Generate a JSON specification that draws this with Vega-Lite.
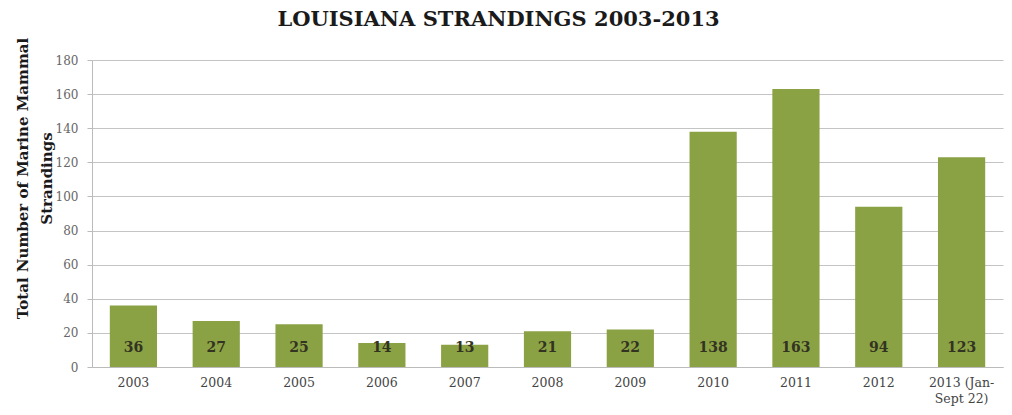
{
  "$schema": "https://vega.github.io/schema/vega-lite/v6.json",
  "autosize": "none",
  "width": 911,
  "height": 307,
  "padding": {"left": 92, "top": 60, "right": 9, "bottom": 48},
  "background": "white",
  "title": {
    "text": "LOUISIANA STRANDINGS 2003-2013",
    "font": "DejaVu Serif",
    "fontSize": 21,
    "fontWeight": "bold",
    "color": "#1a1a1a",
    "anchor": "middle",
    "frame": "group",
    "dx": -49,
    "offset": 7
  },
  "data": {
    "values": [
      {"year": "2003", "count": 36},
      {"year": "2004", "count": 27},
      {"year": "2005", "count": 25},
      {"year": "2006", "count": 14},
      {"year": "2007", "count": 13},
      {"year": "2008", "count": 21},
      {"year": "2009", "count": 22},
      {"year": "2010", "count": 138},
      {"year": "2011", "count": 163},
      {"year": "2012", "count": 94},
      {"year": "2013 (Jan-Sept 22)", "count": 123}
    ]
  },
  "encoding": {
    "x": {
      "field": "year",
      "type": "nominal",
      "sort": null,
      "scale": {"paddingInner": 0.43, "paddingOuter": 0.215},
      "axis": {
        "title": null,
        "labelAngle": 0,
        "labelFont": "DejaVu Serif",
        "labelFontSize": 12.5,
        "labelColor": "#444",
        "labelPadding": 9,
        "ticks": false,
        "domainColor": "#bbb",
        "labelExpr": "datum.value == '2013 (Jan-Sept 22)' ? ['2013 (Jan-', 'Sept 22)'] : datum.value",
        "labelLineHeight": 16
      }
    }
  },
  "resolve": {"axis": {"y": "independent"}},
  "layer": [
    {
      "mark": {"type": "bar", "color": "#8aa244"},
      "encoding": {
        "y": {
          "field": "count",
          "type": "quantitative",
          "scale": {"domain": [0, 180], "nice": false},
          "axis": {
            "title": ["Total Number of Marine Mammal", "Strandings"],
            "titleFont": "DejaVu Serif",
            "titleFontSize": 15,
            "titleFontWeight": "bold",
            "titleColor": "#1a1a1a",
            "titleX": -70,
            "titleY": 118,
            "titleBaseline": "middle",
            "titleLineHeight": 24,
            "values": [0, 20, 40, 60, 80, 100, 120, 140, 160, 180],
            "labelOverlap": false,
            "labelFont": "DejaVu Serif",
            "labelFontSize": 12,
            "labelColor": "#666",
            "labelPadding": 9,
            "tickSize": 5,
            "tickColor": "#bbb",
            "domainColor": "#bbb",
            "gridColor": "#c4c4c4",
            "grid": true
          }
        }
      }
    },
    {
      "mark": {
        "type": "text",
        "baseline": "middle",
        "font": "DejaVu Serif",
        "fontSize": 14,
        "fontWeight": "bold",
        "color": "#333322"
      },
      "encoding": {
        "y": {"datum": 11, "type": "quantitative", "axis": null},
        "text": {"field": "count", "type": "quantitative"}
      }
    }
  ],
  "config": {"view": {"stroke": null}}
}
